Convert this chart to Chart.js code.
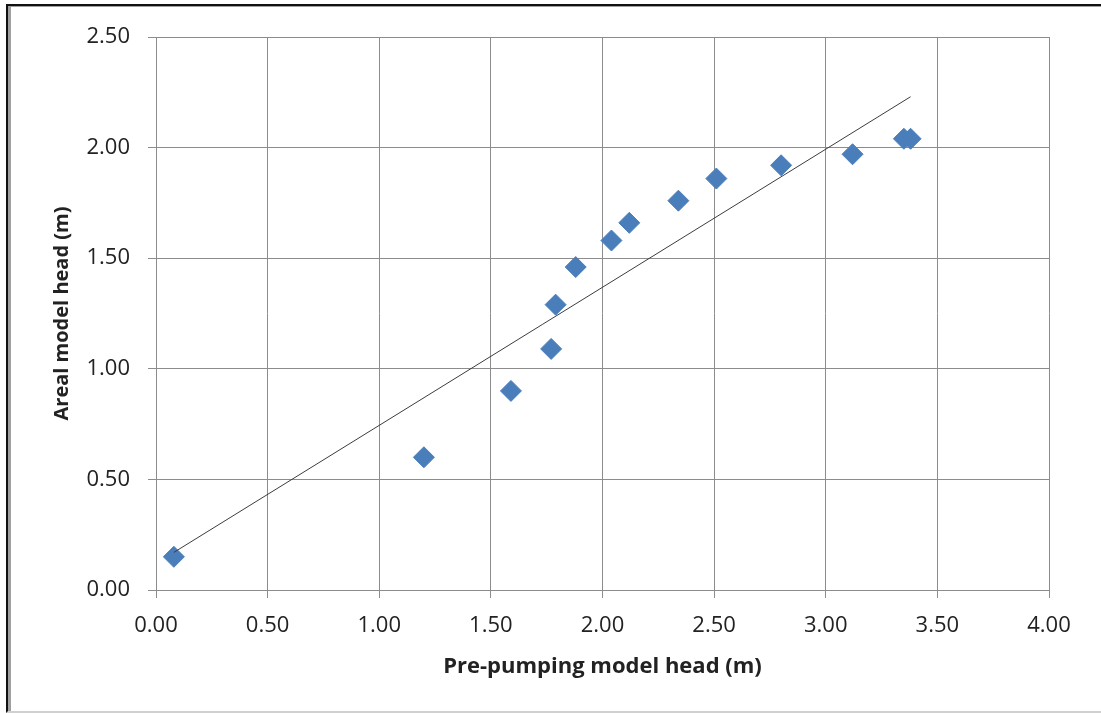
<!DOCTYPE html>
<html>
<head>
<meta charset="utf-8">
<script src="https://cdn.jsdelivr.net/npm/chart.js@4.4.0/dist/chart.umd.min.js"></script>
<style>
  html, body { margin: 0; padding: 0; background: #fff; }
  #wrap { position: relative; width: 1101px; height: 713px; overflow: hidden; }
  #frame {
    position: absolute; left: 6px; top: 4px; width: 1200px; height: 705px;
    border-left: 2px solid #111; border-top: 2px solid #111; border-bottom: 2px solid #d0d0d0;
    pointer-events: none;
  }
  #frame .inner {
    position: absolute; left: 0; top: 0; right: 0; bottom: 0;
    border-left: 3px solid #a0a0a0; border-top: 1px solid #a0a0a0;
  }
</style>
</head>
<body>
<div id="wrap">
  <canvas id="chart" width="1101" height="713"></canvas>
  <div id="frame"><div class="inner"></div></div>
</div>
<script>
// valores
const preHead = [0.08, 1.20, 1.59, 1.77, 1.79, 1.88, 2.04, 2.12, 2.34, 2.51, 2.80, 3.12, 3.35, 3.38];
const arealHead = [0.15, 0.60, 0.90, 1.09, 1.29, 1.46, 1.58, 1.66, 1.76, 1.86, 1.92, 1.97, 2.04, 2.04];

// linha de tendência (extremos)
const trendX = [0.08, 3.38];
const trendY = [0.17, 2.23];

const xTicks = [0, 0.5, 1, 1.5, 2, 2.5, 3, 3.5, 4];
const yTicks = [0, 0.5, 1, 1.5, 2, 2.5];

const gridColor = '#8c8c8c';
const textColor = '#222222';
const tickFont = { family: '"Open Sans", sans-serif', size: 22 };
const xTitleFont = { family: '"Open Sans", sans-serif', size: 22, weight: 'bold' };
const yTitleFont = { family: '"Open Sans", sans-serif', size: 20, weight: 'bold' };

const points = preHead.map((x, i) => ({ x: x, y: arealHead[i] }));
const trend = trendX.map((x, i) => ({ x: x, y: trendY[i] }));

new Chart(document.getElementById('chart').getContext('2d'), {
  type: 'scatter',
  data: {
    datasets: [
      {
        label: 'Trend',
        data: trend,
        showLine: true,
        borderColor: '#3c3c3c',
        borderWidth: 1,
        pointRadius: 0,
        fill: false,
        order: 0
      },
      {
        label: 'Head',
        data: points,
        pointStyle: 'rectRot',
        pointRadius: 10.5,
        pointBackgroundColor: '#4a7ebb',
        pointBorderColor: '#4a7ebb',
        pointBorderWidth: 1,
        order: 1
      }
    ]
  },
  options: {
    responsive: false,
    animation: false,
    layout: { padding: { top: 37, right: 52, bottom: 0, left: 0 } },
    plugins: {
      legend: { display: false },
      tooltip: { enabled: false }
    },
    scales: {
      x: {
        type: 'linear',
        min: 0,
        max: 4,
        afterFit: s => { s.height = 123; },
        afterBuildTicks: s => { s.ticks = xTicks.map(v => ({ value: v })); },
        ticks: {
          color: textColor,
          font: tickFont,
          padding: 15,
          maxRotation: 0,
          callback: v => v.toFixed(2)
        },
        grid: { color: gridColor, lineWidth: 1, tickLength: 8, drawTicks: true },
        border: { color: gridColor },
        title: {
          display: true,
          text: 'Pre-pumping model head (m)',
          color: textColor,
          font: xTitleFont,
          padding: { top: 0, bottom: 33 }
        }
      },
      y: {
        type: 'linear',
        min: 0,
        max: 2.5,
        afterFit: s => { s.width = 156; },
        afterBuildTicks: s => { s.ticks = yTicks.map(v => ({ value: v })); },
        ticks: {
          color: textColor,
          font: tickFont,
          padding: 18,
          callback: v => v.toFixed(2)
        },
        grid: { color: gridColor, lineWidth: 1, tickLength: 8, drawTicks: true },
        border: { color: gridColor },
        title: {
          display: true,
          text: 'Areal model head (m)',
          color: textColor,
          font: yTitleFont,
          padding: { top: 50, bottom: 0 }
        }
      }
    }
  }
});
</script>
</body>
</html>
